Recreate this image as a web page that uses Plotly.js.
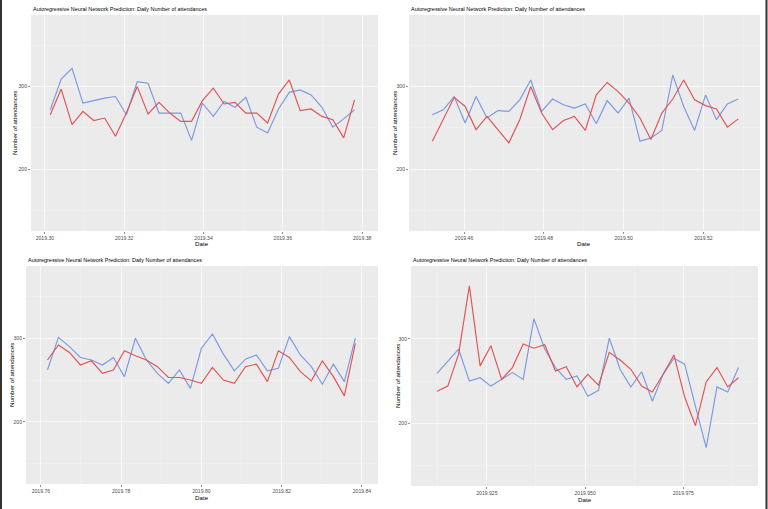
<!DOCTYPE html>
<html>
<head>
<meta charset="utf-8">
<script src="https://cdn.plot.ly/plotly-3.0.1.min.js"></script>
<style>
  html, body { margin: 0; padding: 0; background: #fff; }
  #chart { width: 768px; height: 509px; }
</style>
</head>
<body>
<div id="chart"></div>
<script>
// day of year for each panel (daily series, frequency 365)
const days1 = [110,111,112,113,114,115,116,117,118,119,120,121,122,123,124,125,126,127,128,129,130,131,132,133,134,135,136,137,138];
const days2 = [165,166,167,168,169,170,171,172,173,174,175,176,177,178,179,180,181,182,183,184,185,186,187,188,189,190,191,192,193];
const days3 = [278,279,280,281,282,283,284,285,286,287,288,289,290,291,292,293,294,295,296,297,298,299,300,301,302,303,304,305,306];
const days4 = [333,334,335,336,337,338,339,340,341,342,343,344,345,346,347,348,349,350,351,352,353,354,355,356,357,358,359,360,361];

// blue line
const actual1 = [272,309,322,280,283,286,288,266,306,304,268,268,268,235,280,264,282,275,287,251,244,273,293,296,290,275,251,261,272];
const actual2 = [266,272,288,256,288,262,271,270,284,308,270,285,278,274,279,255,283,268,286,234,238,247,314,276,247,290,260,279,285];
const actual3 = [262,301,290,277,274,268,277,254,300,274,258,246,262,240,288,305,281,261,275,280,261,264,302,280,266,245,269,248,300];
const actual4 = [259,273,288,250,254,244,252,260,252,324,288,266,252,256,232,239,301,264,243,261,226,258,277,270,220,171,243,237,266];

// red line
const predicted1 = [266,297,254,270,259,262,240,268,300,267,281,268,258,258,283,298,279,281,268,268,256,291,308,271,273,264,260,238,284];
const predicted2 = [234,261,287,276,248,264,248,232,260,300,268,248,259,264,247,290,305,294,280,262,236,268,285,308,284,277,273,251,261];
const predicted3 = [274,292,283,268,273,258,262,285,279,274,266,253,253,250,246,265,250,246,266,269,248,285,277,260,249,273,254,231,294];
const predicted4 = [238,244,282,363,268,292,252,266,294,289,293,262,267,243,258,245,284,275,264,244,237,258,281,231,197,249,266,243,254];

const chartTitle = 'Autoregressive Neural Network Prediction: Daily Number of attendances';
const xTitle = 'Date';
const yTitle = 'Number of attendances';
const xTickFormats = ['.2f', '.2f', '.2f', '.3f'];

const toYear = d => 2019 + d / 365;

const W = 768, H = 509;
// plot areas in pixels: [left, right, top, bottom]
const boxes = [
  [31, 378, 15, 231],
  [409, 760, 15, 231],
  [26, 378, 266, 484],
  [411, 758, 266, 486]
];
// axis title positions in pixels: [yTitleX, dateX, dateY]
const titlePos = [
  [15, 202, 244],
  [395, 584, 244],
  [11, 202, 497.5],
  [397, 585, 499]
];
const xRanges = [
  [2019.2965, 2019.3840],
  [2019.4462, 2019.5342],
  [2019.7563, 2019.8440],
  [2019.9057, 2019.9940]
];
const xTicks = [
  {tick0: 2019.30, dtick: 0.02},
  {tick0: 2019.46, dtick: 0.02},
  {tick0: 2019.76, dtick: 0.02},
  {tick0: 2019.925, dtick: 0.025}
];

const daySets = [days1, days2, days3, days4];
const actualSets = [actual1, actual2, actual3, actual4];
const predictedSets = [predicted1, predicted2, predicted3, predicted4];

const blue = 'rgb(124,152,228)';
const red = 'rgb(224,84,84)';
const font = '"Liberation Sans", Arial, sans-serif';

const traces = [];
const layout = {
  width: W,
  height: H,
  margin: {l: 0, r: 0, t: 0, b: 0, pad: 0},
  paper_bgcolor: '#ffffff',
  plot_bgcolor: '#ebebeb',
  showlegend: false,
  font: {family: font, color: '#000'},
  annotations: [],
  shapes: [
    // dark window edges of the screenshot
    {type: 'rect', xref: 'paper', yref: 'paper', x0: 0, x1: 2 / W, y0: 0, y1: 1,
     fillcolor: '#333', line: {width: 0}},
    {type: 'rect', xref: 'paper', yref: 'paper', x0: 765.5 / W, x1: 767.5 / W, y0: 0, y1: 1,
     fillcolor: '#333', line: {width: 0}}
  ]
};

for (let i = 0; i < 4; i++) {
  const n = i === 0 ? '' : String(i + 1);
  const [l, r, t, b] = boxes[i];
  const [yTitleX, dateX, dateY] = titlePos[i];
  const xs = daySets[i].map(toYear);

  traces.push({
    x: xs, y: actualSets[i], xaxis: 'x' + n, yaxis: 'y' + n,
    type: 'scatter', mode: 'lines', name: 'Actual',
    line: {color: blue, width: 1.15}, hoverinfo: 'skip'
  });
  traces.push({
    x: xs, y: predictedSets[i], xaxis: 'x' + n, yaxis: 'y' + n,
    type: 'scatter', mode: 'lines', name: 'Predicted',
    line: {color: red, width: 1.15}, hoverinfo: 'skip'
  });

  layout['xaxis' + n] = {
    domain: [l / W, r / W],
    anchor: 'y' + n,
    range: xRanges[i],
    tick0: xTicks[i].tick0,
    dtick: xTicks[i].dtick,
    tickformat: xTickFormats[i],
    showgrid: true, gridcolor: '#f8f8f8', gridwidth: 1,
    minor: {dtick: xTicks[i].dtick / 2, showgrid: true, gridcolor: '#f1f1f1', gridwidth: 0.6, ticks: ''},
    zeroline: false, showline: false,
    ticks: 'outside', ticklen: 2, tickwidth: 0.6, tickcolor: '#444',
    tickfont: {size: 5.1, color: '#4d4d4d', family: font}
  };
  layout['yaxis' + n] = {
    domain: [1 - b / H, 1 - t / H],
    anchor: 'x' + n,
    range: [125.5, 386.5],
    tick0: 0, dtick: 100,
    showgrid: true, gridcolor: '#f8f8f8', gridwidth: 1,
    minor: {dtick: 50, showgrid: true, gridcolor: '#f1f1f1', gridwidth: 0.6, ticks: ''},
    zeroline: false, showline: false,
    ticks: 'outside', ticklen: 2, tickwidth: 0.6, tickcolor: '#444',
    tickfont: {size: 5.1, color: '#4d4d4d', family: font}
  };

  layout.annotations.push({
    text: chartTitle,
    xref: 'paper', yref: 'paper',
    x: l / W, y: 1 - (t - 6) / H,
    xanchor: 'left', yanchor: 'middle',
    showarrow: false,
    font: {size: 5.45, color: '#000', family: font}
  });
  layout.annotations.push({
    text: xTitle,
    xref: 'paper', yref: 'paper',
    x: dateX / W, y: 1 - dateY / H,
    xanchor: 'center', yanchor: 'middle',
    showarrow: false,
    font: {size: 6.2, color: '#000', family: font}
  });
  layout.annotations.push({
    text: yTitle,
    xref: 'paper', yref: 'paper',
    x: yTitleX / W, y: 1 - ((t + b) / 2) / H,
    xanchor: 'center', yanchor: 'middle',
    textangle: -90,
    showarrow: false,
    font: {size: 6.2, color: '#000', family: font}
  });
}

Plotly.newPlot('chart', traces, layout, {staticPlot: true, displayModeBar: false});
</script>
</body>
</html>
